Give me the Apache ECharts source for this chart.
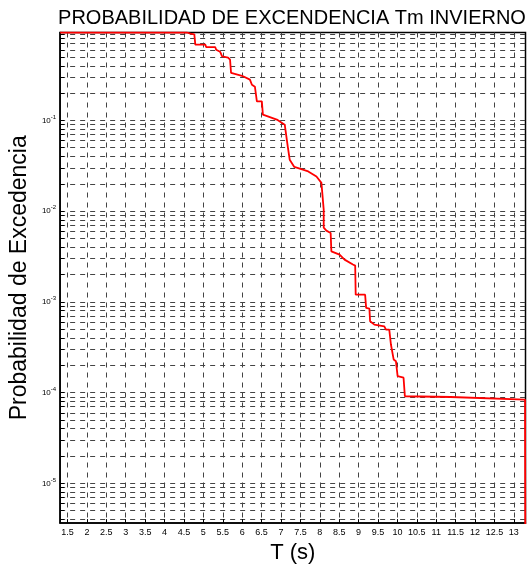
<!DOCTYPE html>
<html><head><meta charset="utf-8">
<script src="https://cdn.jsdelivr.net/npm/echarts@6/dist/echarts.min.js"></script>
<style>html,body{margin:0;padding:0;background:#fff}#c{width:531px;height:569px}</style>
</head><body><div id="c"></div>
<script>
const chartTitle = 'PROBABILIDAD DE EXCENDENCIA Tm INVIERNO';
const xAxisName = 'T (s)';
const yAxisName = 'Probabilidad de Excedencia';

// step curve vertices: period T (s) and exceedance probability
const periodT = [1.31, 4.58, 4.665, 4.767, 4.793, 5.049, 5.074, 5.305, 5.331, 5.43, 5.484, 5.637, 5.688, 5.714,
  5.995, 6.2, 6.251, 6.328, 6.379, 6.507, 6.534, 6.56, 6.893, 7.097, 7.148, 7.174, 7.225, 7.344, 7.702, 7.914,
  8.042, 8.101, 8.101, 8.17, 8.28, 8.298, 8.51, 8.638, 8.853, 8.912, 8.925, 9.168, 9.194, 9.278, 9.296, 9.406,
  9.662, 9.705, 9.79, 9.833, 9.903, 9.961, 10.005, 10.158, 10.192, 11.369, 13.288, 13.3, 13.3];
const probExc = [0.93, 0.93, 0.902, 0.889, 0.683, 0.683, 0.643, 0.643, 0.601, 0.571, 0.507, 0.491, 0.466, 0.333,
  0.310, 0.281, 0.247, 0.235, 0.162, 0.162, 0.1156, 0.1127, 0.102, 0.0897, 0.0853, 0.0518, 0.0369, 0.0307, 0.0274, 0.0241,
  0.0205, 0.0104, 0.00658, 0.00610, 0.00575, 0.00361, 0.00332, 0.00292, 0.00258, 0.00251, 0.00120, 0.00120, 0.000859, 0.000844, 0.000611, 0.000562,
  0.000538, 0.000495, 0.000495, 0.000339, 0.000232, 0.000222, 0.000152, 0.000146, 0.0000912, 0.0000895, 0.0000839, 0.0000839, 1e-7];

const xMin = 1.31, xMax = 13.3;
const yMin = 3.65e-6, yMax = 0.93;
const xTickValues = [1.5, 2, 2.5, 3, 3.5, 4, 4.5, 5, 5.5, 6, 6.5, 7, 7.5, 8, 8.5, 9, 9.5, 10, 10.5, 11, 11.5, 12, 12.5, 13];
const yLabelValues = [1e-5, 1e-4, 1e-3, 1e-2, 1e-1];
const yMantissas = [1, 2, 3, 4, 5, 6, 7, 8, 9];
const yExponents = [-6, -5, -4, -3, -2, -1];

const yGridValues = [];
yExponents.forEach(e => yMantissas.forEach(m => {
  const v = Number((m * Math.pow(10, e)).toPrecision(3));
  if (v > yMin && v < yMax) yGridValues.push(v);
}));

const chart = echarts.init(document.getElementById('c'));
const gridLine = { color: '#444', width: 1, type: [5, 5] };
chart.setOption({
  animation: false,
  backgroundColor: '#fff',
  title: {
    text: chartTitle, left: 287, top: 3, textAlign: 'center',
    textStyle: { fontFamily: 'Liberation Sans, Arial, sans-serif', fontSize: 20, fontWeight: 'normal', color: '#000' }
  },
  grid: { left: 57, right: 5.5, top: 32.5, bottom: 44.6, show: true, borderColor: '#000', borderWidth: 1.5, backgroundColor: 'transparent' },
  xAxis: {
    type: 'value', min: xMin, max: xMax,
    name: xAxisName, nameLocation: 'middle', nameGap: 16,
    nameTextStyle: { fontFamily: 'Liberation Sans, Arial, sans-serif', fontSize: 22, color: '#000' },
    axisLine: { show: true, lineStyle: { color: '#000', width: 1.5 } },
    axisTick: { show: true, inside: true, length: 4, customValues: xTickValues, lineStyle: { color: '#000' } },
    axisLabel: { customValues: xTickValues, interval: 0, margin: 5, fontFamily: 'Liberation Sans, Arial, sans-serif', fontSize: 9, color: '#000',
      formatter: v => String(v) },
    splitLine: { show: true, lineStyle: gridLine }
  },
  yAxis: {
    type: 'log', logBase: 10, min: yMin, max: yMax,
    name: yAxisName, nameLocation: 'middle', nameGap: 26,
    nameTextStyle: { fontFamily: 'Liberation Sans, Arial, sans-serif', fontSize: 23, color: '#000' },
    axisLine: { show: true, lineStyle: { color: '#000', width: 1.5 } },
    axisTick: { show: true, inside: true, length: 4, customValues: yGridValues, lineStyle: { color: '#000' } },
    axisLabel: {
      customValues: yLabelValues, margin: 4, color: '#000',
      fontFamily: 'Liberation Sans, Arial, sans-serif', fontSize: 8,
      formatter: v => '{b|10}{s|' + Math.round(Math.log10(v)) + '}',
      rich: {
        b: { fontSize: 8, fontFamily: 'Liberation Sans, Arial, sans-serif', color: '#000' },
        s: { fontSize: 6, fontFamily: 'Liberation Sans, Arial, sans-serif', color: '#000', padding: [0, 0, 7, 0] }
      }
    },
    splitLine: { show: true, lineStyle: gridLine }
  },
  series: [{
    type: 'line',
    data: periodT.map((t, i) => [t, probExc[i]]),
    showSymbol: false, symbol: 'none', clip: true,
    lineStyle: { color: '#ff0000', width: 1.8 },
    z: 5
  }]
});
</script></body></html>
